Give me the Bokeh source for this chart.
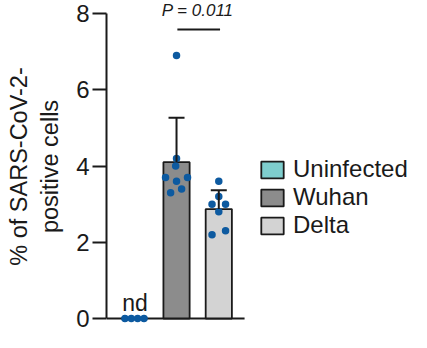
import numpy as np
from bokeh.plotting import figure
from bokeh.models import (ColumnDataSource, FixedTicker, Whisker, TeeHead,
                          Legend, LegendItem)
from bokeh.core.properties import value
from bokeh.embed import file_html
from bokeh.resources import INLINE

# ---- data ----
groups = ["Uninfected", "Wuhan", "Delta"]
group_colors = ["#7ecdcd", "#8c8c8c", "#d3d3d3"]
uninfected_vals = [0, 0, 0, 0]
wuhan_vals = [6.9, 4.2, 4.0, 3.7, 3.7, 3.6, 3.4, 3.3]
delta_vals = [3.6, 3.2, 3.0, 3.0, 2.8, 2.3, 2.2]
uninfected_jit = [-0.22, -0.07, 0.08, 0.23]
wuhan_jit = [0.0, 0.0, -0.02, -0.26, 0.26, 0.0, 0.12, -0.14]
delta_jit = [0.0, 0.0, -0.16, 0.16, 0.0, 0.16, -0.16]
y_ticks = [0, 2, 4, 6, 8]
p_label = "P = 0.011"
nd_label = "nd"
y_label = "% of SARS-CoV-2-\npositive cells"

FONT = "Liberation Sans"
INK = "#1a1a1a"
DOT = "#0d5aa0"

positions = [1, 2, 3]
all_vals = [uninfected_vals, wuhan_vals, delta_vals]
all_jit = [uninfected_jit, wuhan_jit, delta_jit]
means = [0.0 if g == "Uninfected" else float(np.mean(v)) for g, v in zip(groups, all_vals)]
sds = [float(np.std(v, ddof=1)) for v in all_vals]

x_start, x_end, axis_end = 0.343, 7.56, 3.61

p = figure(width=411, height=332, x_range=(x_start, x_end), y_range=(-0.367, 8.341),
           output_backend="svg", toolbar_location=None,
           min_border_left=106, min_border_right=0, min_border_top=0, min_border_bottom=0)
p.xaxis.visible = False
p.xgrid.grid_line_color = None
p.ygrid.grid_line_color = None
p.outline_line_color = None

ax = p.yaxis[0]
ax.ticker = FixedTicker(ticks=y_ticks)
ax.bounds = (0, 8)
ax.major_tick_out = 14
ax.major_tick_in = 0
ax.minor_tick_out = 0
ax.minor_tick_in = 0
ax.axis_line_width = 2
ax.axis_line_color = INK
ax.major_tick_line_width = 2
ax.major_tick_line_color = INK
ax.major_label_text_font = FONT
ax.major_label_text_font_size = "24px"
ax.major_label_text_color = INK
ax.major_label_standoff = 3
ax.axis_label = y_label
ax.axis_label_text_font = FONT
ax.axis_label_text_font_size = "23.5px"
ax.axis_label_text_font_style = "normal"
ax.axis_label_text_color = INK
ax.axis_label_standoff = 10

# baseline (x axis line)
p.segment(x0=[x_start], y0=[0], x1=[axis_end], y1=[0], line_color=INK, line_width=2)

bar_src = ColumnDataSource(dict(x=positions, top=means, color=group_colors, label=groups))
bars = p.vbar(x="x", top="top", width=0.62, fill_color="color", line_color=INK,
              line_width=1.8, source=bar_src)

err_src = ColumnDataSource(dict(x=positions[1:], lower=means[1:],
                                upper=[m + s for m, s in zip(means[1:], sds[1:])]))
p.add_layout(Whisker(base="x", lower="lower", upper="upper", source=err_src,
                     line_color=INK, line_width=2, lower_head=None,
                     upper_head=TeeHead(size=16, line_color=INK, line_width=2),
                     level="glyph"))

xs, ys = [], []
for pos, vals, jit in zip(positions, all_vals, all_jit):
    for v, j in zip(vals, jit):
        xs.append(pos + j)
        ys.append(v)
p.scatter(xs, ys, size=7.5, color=DOT, line_color=None)

bracket_y = 7.58
p.segment(x0=[positions[1] + 0.02], y0=[bracket_y], x1=[positions[2] + 0.03], y1=[bracket_y],
          line_color=INK, line_width=2)
p.text(x=[(positions[1] + positions[2]) / 2], y=[8.09], text=[p_label],
       text_align="center", text_baseline="middle", text_font=value(FONT),
       text_font_style="italic", text_font_size="17px", text_color=INK)
p.text(x=[positions[0] + 0.02], y=[0.40], text=[nd_label], text_align="center",
       text_baseline="alphabetic", text_font=value(FONT), text_font_size="23px",
       text_color=INK)

legend = Legend(items=[LegendItem(label=g, renderers=[bars], index=i) for i, g in enumerate(groups)],
                location=(152, 93), glyph_width=28, glyph_height=21, label_standoff=7,
                spacing=0, padding=0, margin=0, border_line_color=None,
                background_fill_alpha=0, label_text_font=FONT, label_text_font_size="24px",
                label_text_color=INK, label_height=21)
p.add_layout(legend)

open("out.html", "w").write(file_html(p, INLINE))
